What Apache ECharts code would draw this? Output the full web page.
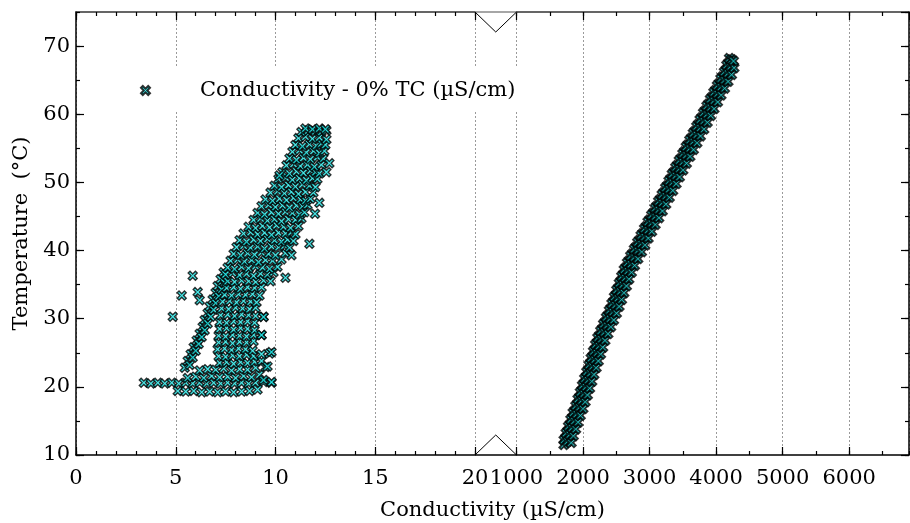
<!DOCTYPE html>
<html><head><meta charset="utf-8">
<script src="https://cdn.jsdelivr.net/npm/echarts@6/dist/echarts.min.js"></script>
<style>html,body{margin:0;padding:0;background:#fff}#c{width:910px;height:523px}</style>
</head><body><div id="c"></div>
<script>
const SERIES_NAME = 'Conductivity - 0% TC (µS/cm)';
const X_TITLE = 'Conductivity (µS/cm)';
const Y_TITLE = 'Temperature  (°C)';
const lowRange = [0, 20];
const lowInterval = 5;
const lowMinor = 1;
const highRange = [1000, 6900];
const highInterval = 1000;
const highMinor = 500;
const tempRange = [10, 75];
const tempInterval = 10;
const tempMinor = 5;

// [conductivity, temperature]
const lowBaseline = [[3.4,20.6],[3.75,20.5],[4.1,20.6],[4.45,20.5],[4.8,20.6],[5.15,20.5],[5.5,20.6],[5.85,20.5],[6.2,20.6],[6.55,20.5],[6.9,20.6],[7.25,20.5],[7.6,20.6],[7.95,20.5],[8.3,20.6],[8.65,20.5],[9.0,20.6],[9.4,20.7],[9.8,20.6]];
const lowFloor = [[5.1,19.4],[5.5,19.3],[5.9,19.4],[6.3,19.2],[6.7,19.3],[7.1,19.2],[7.5,19.3],[7.9,19.2],[8.3,19.3],[8.7,19.4],[9.1,19.6],
  [5.6,21.3],[6.0,21.5],[6.4,21.3],[6.8,21.6],[7.2,21.4],[7.6,21.5],[8.0,21.3],[8.4,21.6],[8.8,21.4],[9.2,21.8],
  [6.2,22.4],[6.6,22.6],[7.0,22.5],[7.4,22.7],[7.8,22.4],[8.2,22.6],[8.6,22.5],[9.0,22.8],[9.5,22.9]];
const lowStrand = [[5.45,22.8],[5.6,23.8],[5.75,24.8],[5.9,25.8],[6.05,26.8],[6.2,27.8],[6.35,28.8],[6.45,29.8],[6.6,30.8],[6.7,31.8],[6.85,32.8],[7.0,33.8],[7.1,34.8],[7.25,35.8],[7.4,36.8],
  [5.7,23.2],[5.85,24.3],[6.0,25.3],[6.15,26.3],[6.3,27.3],[6.45,28.3],[6.6,29.3],[6.75,30.3],[6.9,31.3],[7.0,32.3],[7.15,33.3],[7.3,34.3],[7.45,35.3]];
const lowBody = [
  [7.2,23.5],[7.55,23.6],[7.9,23.4],[8.25,23.6],[8.6,23.5],[8.95,23.7],[9.3,23.8],
  [7.15,24.5],[7.5,24.4],[7.85,24.6],[8.2,24.5],[8.55,24.7],[8.9,24.5],[9.3,24.8],[9.7,24.9],
  [7.1,25.5],[7.45,25.6],[7.8,25.4],[8.15,25.6],[8.5,25.5],[8.85,25.3],
  [7.15,26.5],[7.5,26.6],[7.85,26.4],[8.2,26.6],[8.55,26.5],[8.9,26.7],
  [7.15,27.5],[7.5,27.4],[7.85,27.6],[8.2,27.5],[8.55,27.4],[8.9,27.6],[9.3,27.6],
  [7.2,28.5],[7.55,28.6],[7.9,28.4],[8.25,28.6],[8.6,28.5],[8.95,28.3],
  [7.2,29.5],[7.55,29.4],[7.9,29.6],[8.25,29.5],[8.6,29.6],[8.95,29.4],
  [7.25,30.5],[7.6,30.6],[7.95,30.4],[8.3,30.6],[8.65,30.5],[9.0,30.4],[9.4,30.3],
  [7.3,31.5],[7.65,31.4],[8.0,31.6],[8.35,31.5],[8.7,31.4],[9.0,31.6],
  [7.35,32.5],[7.7,32.6],[8.05,32.4],[8.4,32.6],[8.75,32.5],[9.05,32.4],
  [7.45,33.5],[7.8,33.4],[8.15,33.6],[8.5,33.5],[8.85,33.6],[9.2,33.4],
  [7.55,34.5],[7.9,34.6],[8.25,34.4],[8.6,34.6],[8.95,34.5],[9.3,34.6],
  [7.6,35.5],[7.95,35.4],[8.3,35.6],[8.65,35.5],[9.0,35.4],[9.4,35.6],[9.75,35.5]];
const lowUpper = [
  [7.5,36.5],[7.85,36.7],[8.2,36.4],[8.55,36.6],[8.9,36.3],[9.25,36.6],[9.6,36.5],[9.9,36.8],
  [7.6,37.5],[7.95,37.3],[8.3,37.6],[8.65,37.4],[9.0,37.7],[9.35,37.5],[9.7,37.3],[10.1,37.6],
  [7.75,38.5],[8.1,38.7],[8.45,38.4],[8.8,38.6],[9.15,38.3],[9.5,38.6],[9.85,38.5],[10.3,38.7],
  [7.9,39.5],[8.25,39.3],[8.6,39.6],[8.95,39.4],[9.3,39.7],[9.65,39.5],[10.0,39.3],[10.5,39.6],
  [8.05,40.5],[8.4,40.7],[8.75,40.4],[9.1,40.6],[9.45,40.3],[9.8,40.6],[10.15,40.5],[10.45,40.7],[10.7,40.4],
  [8.2,41.5],[8.55,41.3],[8.9,41.6],[9.25,41.4],[9.6,41.7],[9.95,41.5],[10.3,41.3],[10.6,41.6],[10.9,41.4],
  [8.4,42.5],[8.75,42.7],[9.1,42.4],[9.45,42.6],[9.8,42.3],[10.15,42.6],[10.5,42.5],[10.8,42.7],[11.0,42.4],
  [8.65,43.5],[9.0,43.3],[9.35,43.6],[9.7,43.4],[10.05,43.7],[10.4,43.5],[10.75,43.3],[11.15,43.6],
  [8.9,44.5],[9.25,44.7],[9.6,44.4],[9.95,44.6],[10.3,44.3],[10.65,44.6],[11.0,44.5],[11.3,44.7],
  [9.1,45.5],[9.45,45.3],[9.8,45.6],[10.15,45.4],[10.5,45.7],[10.85,45.5],[11.2,45.3],[11.45,45.6],
  [9.3,46.5],[9.65,46.7],[10.0,46.4],[10.35,46.6],[10.7,46.3],[11.05,46.6],[11.35,46.5],[11.6,46.7],
  [9.5,47.5],[9.85,47.3],[10.2,47.6],[10.55,47.4],[10.9,47.7],[11.25,47.5],[11.5,47.3],[11.75,47.6],
  [9.75,48.5],[10.1,48.7],[10.45,48.4],[10.8,48.6],[11.15,48.3],[11.5,48.6],[11.9,48.5],
  [9.95,49.5],[10.3,49.3],[10.65,49.6],[11.0,49.4],[11.35,49.7],[11.7,49.5],[12.0,49.3],
  [10.15,50.5],[10.5,50.7],[10.85,50.4],[11.2,50.6],[11.55,50.3],[11.85,50.6],[12.1,50.5],
  [10.35,51.5],[10.7,51.3],[11.05,51.6],[11.4,51.4],[11.75,51.7],[12.0,51.5],[12.2,51.3],
  [10.55,52.5],[10.9,52.7],[11.25,52.4],[11.6,52.6],[11.95,52.3],[12.3,52.6],
  [10.7,53.5],[11.05,53.3],[11.4,53.6],[11.75,53.4],[12.1,53.7],[12.4,53.5],
  [10.85,54.5],[11.2,54.7],[11.55,54.4],[11.9,54.6],[12.2,54.3],[12.45,54.6],
  [11.0,55.5],[11.35,55.3],[11.7,55.6],[12.05,55.4],[12.3,55.7],[12.5,55.5],
  [11.15,56.5],[11.5,56.7],[11.85,56.4],[12.2,56.6],[12.55,56.3],
  [11.3,57.4],[11.65,57.6],[12.0,57.5],[12.3,57.4],[12.55,57.6],
  [11.5,57.9],[11.85,57.8],[12.2,57.9],[12.5,57.8]];
const lowOutliers = [[4.85,30.3],[5.3,33.4],[5.85,36.3],[6.1,33.9],[6.2,32.7],[10.2,51.0],[12.55,51.5],[11.98,45.4],[10.8,39.3],[9.4,30.25],[9.3,27.6],[9.6,23.0],[9.8,20.7],[9.4,21.0],[12.7,52.8],[9.8,25.1],[12.2,47.0],[11.7,41.0],[10.5,36.0]];
const highBandInner = [[1740,12.5],[1772,13.5],[1807,14.5],[1842,15.5],[1877,16.5],[1917,17.5],[1950,18.5],[1984,19.5],[2017,20.5],[2050,21.5],
  [2082,22.5],[2115,23.5],[2148,24.5],[2182,25.5],[2214,26.5],[2247,27.5],[2292,28.5],[2334,29.5],[2377,30.5],[2420,31.5],
  [2460,32.5],[2497,33.5],[2532,34.5],[2570,35.5],[2607,36.5],[2645,37.5],[2692,38.5],[2742,39.5],[2797,40.5],[2847,41.5],
  [2897,42.5],[2950,43.5],[3002,44.5],[3057,45.5],[3110,46.5],[3162,47.5],[3215,48.5],[3267,49.5],[3317,50.5],[3367,51.5],
  [3419,52.5],[3472,53.5],[3525,54.5],[3577,55.5],[3630,56.5],[3682,57.5],[3734,58.5],[3785,59.5],[3836,60.5],[3887,61.5],
  [3940,62.5],[3992,63.5],[4045,64.5],[4097,65.5],[4150,66.5],[4187,67.5]];
const highBand = [[1712,11.5],
  [1713,12.2],[1768,12.0],[1823,11.8],[1745,13.2],[1800,13.0],[1855,12.8],[1780,14.2],[1835,14.0],[1890,13.8],
  [1815,15.2],[1870,15.0],[1925,14.8],[1850,16.2],[1905,16.0],[1960,15.8],[1890,17.2],[1945,17.0],[2000,16.8],
  [1923,18.2],[1978,18.0],[2033,17.8],[1957,19.2],[2012,19.0],[2067,18.8],[1990,20.2],[2045,20.0],[2100,19.8],
  [2023,21.2],[2078,21.0],[2133,20.8],[2055,22.2],[2110,22.0],[2165,21.8],[2088,23.2],[2143,23.0],[2198,22.8],
  [2121,24.2],[2176,24.0],[2231,23.8],[2155,25.2],[2210,25.0],[2265,24.8],[2187,26.2],[2242,26.0],[2297,25.8],
  [2220,27.2],[2275,27.0],[2330,26.8],[2265,28.2],[2320,28.0],[2375,27.8],[2307,29.2],[2362,29.0],[2417,28.8],
  [2350,30.2],[2405,30.0],[2460,29.8],[2393,31.2],[2448,31.0],[2503,30.8],[2433,32.2],[2488,32.0],[2543,31.8],
  [2470,33.2],[2525,33.0],[2580,32.8],[2505,34.2],[2560,34.0],[2615,33.8],[2543,35.2],[2598,35.0],[2653,34.8],
  [2580,36.2],[2635,36.0],[2690,35.8],[2618,37.2],[2673,37.0],[2728,36.8],[2665,38.2],[2720,38.0],[2775,37.8],
  [2715,39.2],[2770,39.0],[2825,38.8],[2770,40.2],[2825,40.0],[2880,39.8],[2820,41.2],[2875,41.0],[2930,40.8],
  [2870,42.2],[2925,42.0],[2980,41.8],[2923,43.2],[2978,43.0],[3033,42.8],[2975,44.2],[3030,44.0],[3085,43.8],
  [3030,45.2],[3085,45.0],[3140,44.8],[3083,46.2],[3138,46.0],[3193,45.8],[3135,47.2],[3190,47.0],[3245,46.8],
  [3188,48.2],[3243,48.0],[3298,47.8],[3240,49.2],[3295,49.0],[3350,48.8],[3290,50.2],[3345,50.0],[3400,49.8],
  [3340,51.2],[3395,51.0],[3450,50.8],[3392,52.2],[3447,52.0],[3502,51.8],[3445,53.2],[3500,53.0],[3555,52.8],
  [3498,54.2],[3553,54.0],[3608,53.8],[3550,55.2],[3605,55.0],[3660,54.8],[3603,56.2],[3658,56.0],[3713,55.8],
  [3655,57.2],[3710,57.0],[3765,56.8],[3707,58.2],[3762,58.0],[3817,57.8],[3758,59.2],[3813,59.0],[3868,58.8],
  [3809,60.2],[3864,60.0],[3919,59.8],[3860,61.2],[3915,61.0],[3970,60.8],[3913,62.2],[3968,62.0],[4023,61.8],
  [3965,63.2],[4020,63.0],[4075,62.8],[4018,64.2],[4073,64.0],[4128,63.8],[4070,65.2],[4125,65.0],[4180,64.8],
  [4123,66.2],[4178,66.0],[4233,65.8],[4160,67.2],[4215,67.0],[4270,66.8],[4200,68.2],[4235,68.0],[4262,67.8]];

const lowData = [].concat(lowBaseline, lowFloor, lowStrand, lowBody, lowUpper, lowOutliers);
const highData = [].concat(highBandInner, highBand);

const FONT = 'DejaVu Serif';
const FS = 21;
const CYAN = '#1ee6e6';
const XSYM = 'path://M0,2L2,0L5,3L8,0L10,2L7,5L10,8L8,10L5,7L2,10L0,8L3,5Z';
const GRID_L = {left: 76, top: 12, width: 399, height: 443};
const GRID_R = {left: 516.5, top: 12, right: 1, height: 443};

function xAx(grid, pos, range, interval, major, withLabels, withSplit, showMax) {
  return {
    type: 'value', gridIndex: grid, position: pos, min: range[0], max: range[1], interval: interval,
    axisLine: {show: major, onZero: false, lineStyle: {color: pos === 'top' ? '#333' : '#000', width: 1.5}},
    axisTick: {show: true, inside: true, length: major ? 8 : 4, lineStyle: {color: '#000', width: 1.2}},
    axisLabel: {show: withLabels, color: '#000', fontFamily: FONT, fontSize: FS, margin: 13, showMaxLabel: !!showMax, showMinLabel: true,
      formatter: v => String(v)},
    splitLine: {show: withSplit, lineStyle: {color: '#9a9a9a', type: [2, 2], width: 1}}
  };
}
function yAx(grid, pos, major, withLabels) {
  const o = {
    type: 'value', gridIndex: grid, position: pos, min: tempRange[0], max: tempRange[1],
    interval: major ? tempInterval : tempMinor,
    axisLine: {show: major, onZero: false, lineStyle: {color: '#000', width: 1.5}},
    axisTick: {show: true, inside: true, length: major ? 8 : 4, lineStyle: {color: '#000', width: 1.2}},
    axisLabel: {show: withLabels, color: '#000', fontFamily: FONT, fontSize: FS, margin: 6, showMaxLabel: false},
    splitLine: {show: false}
  };
  if (withLabels) {
    Object.assign(o, {name: Y_TITLE, nameLocation: 'middle', nameGap: 44,
      nameTextStyle: {color: '#000', fontFamily: FONT, fontSize: FS}});
  }
  return o;
}

const chart = echarts.init(document.getElementById('c'), null, {renderer: 'canvas'});
const scatterStyle = {
  type: 'scatter', name: SERIES_NAME, symbol: XSYM, symbolSize: 9,
  emphasis: {disabled: true}, silent: true
};
chart.setOption({
  animation: false,
  backgroundColor: '#fff',
  grid: [GRID_L, GRID_R],
  xAxis: [
    xAx(0, 'bottom', lowRange, lowInterval, true, true, true, true),
    xAx(0, 'bottom', lowRange, lowMinor, false, false, false),
    xAx(0, 'top', lowRange, lowInterval, true, false, false),
    xAx(0, 'top', lowRange, lowMinor, false, false, false),
    xAx(1, 'bottom', highRange, highInterval, true, true, true, false),
    xAx(1, 'bottom', highRange, highMinor, false, false, false),
    xAx(1, 'top', highRange, highInterval, true, false, false),
    xAx(1, 'top', highRange, highMinor, false, false, false)
  ],
  yAxis: [
    yAx(0, 'left', true, true),
    yAx(0, 'left', false, false),
    yAx(1, 'right', true, false),
    yAx(1, 'right', false, false)
  ],
  legend: {
    data: [{name: SERIES_NAME, icon: XSYM}],
    left: 110, top: 67, padding: [13, 35, 9, 30],
    backgroundColor: '#fff', itemWidth: 9, itemHeight: 9, selectedMode: false,
    textStyle: {color: '#000', fontFamily: FONT, fontSize: FS, padding: [0, 0, 0, 45]}
  },
  series: [
    Object.assign({}, scatterStyle, {xAxisIndex: 0, yAxisIndex: 0, data: lowData,
      itemStyle: {color: CYAN, borderColor: '#000', borderWidth: 1.4}}),
    Object.assign({}, scatterStyle, {xAxisIndex: 4, yAxisIndex: 2, data: highData,
      itemStyle: {color: CYAN, borderColor: '#000', borderWidth: 1.9}})
  ]
});

const pA = chart.convertToPixel({xAxisIndex: 0, yAxisIndex: 0}, [lowRange[1], tempRange[1]]);
const pB = chart.convertToPixel({xAxisIndex: 4, yAxisIndex: 2}, [highRange[0], tempRange[0]]);
const pLeft = chart.convertToPixel({xAxisIndex: 0, yAxisIndex: 0}, [lowRange[0], tempRange[0]]);
const pRight = chart.convertToPixel({xAxisIndex: 4, yAxisIndex: 2}, [highRange[1], tempRange[0]]);
const x1 = pA[0], x2 = pB[0], yTop = pA[1], yBot = pB[1], mid = (x1 + x2) / 2, depth = 20;
chart.setOption({
  graphic: [
    {type: 'line', z: 10, shape: {x1: x1, y1: yTop, x2: x2, y2: yTop}, style: {stroke: '#888', lineWidth: 1.5}},
    {type: 'polyline', z: 10, shape: {points: [[x1, yTop], [mid, yTop + depth], [x2, yTop]]}, style: {stroke: '#000', lineWidth: 1, fill: null}},
    {type: 'line', z: 10, shape: {x1: x1, y1: yBot, x2: x2, y2: yBot}, style: {stroke: '#000', lineWidth: 1.5}},
    {type: 'polyline', z: 10, shape: {points: [[x1, yBot], [mid, yBot - depth], [x2, yBot]]}, style: {stroke: '#000', lineWidth: 1, fill: null}},
    {type: 'text', z: 10, x: (pLeft[0] + pRight[0]) / 2, y: yBot + 56,
      style: {text: X_TITLE, fill: '#000', font: FS + 'px "DejaVu Serif"', align: 'center', verticalAlign: 'middle'}}
  ]
});
</script></body></html>
